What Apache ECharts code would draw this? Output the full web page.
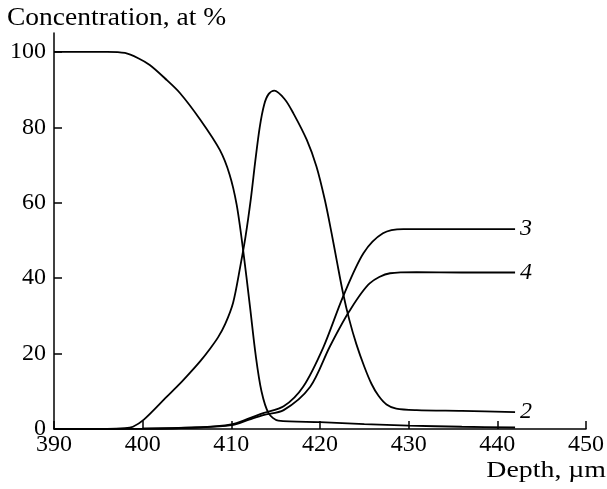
<!DOCTYPE html>
<html>
<head>
<meta charset="utf-8">
<script src="https://cdn.jsdelivr.net/npm/echarts@6/dist/echarts.min.js"></script>
<style>html,body{margin:0;padding:0;background:#fff}#c{width:607px;height:489px}</style>
</head>
<body>
<div id="c"></div>
<script>
// Depth (µm) and concentration (at %) readings
const curve1 = [[390,100],[396,100],[398,99.7],[399.5,98.3],[400.8,96.5],[402.5,93],[404.2,89.1],[406.5,82],[408.7,74],[409.8,67.5],[410.6,59.5],[411.3,48],[412.1,32.5],[412.75,19.5],[413.4,10],[414.2,4.2],[415.3,2.2],[420,1.8],[425,1.3],[430,0.9],[436,0.6],[442,0.4]];
const curve2 = [[390,0],[396,0],[398,0.2],[398.9,0.6],[400.1,2.4],[402.7,8.5],[404.2,12],[405.3,14.8],[406.5,18],[407.6,21.3],[408.5,24.3],[409.3,27.8],[410.2,33.5],[411,43],[411.6,51],[412.2,61],[412.7,71],[413.2,80],[413.7,86],[414.2,88.8],[414.84,89.7],[416,87.5],[417,83.7],[418.5,76.7],[419.6,69.6],[420.55,60.7],[421.3,52],[421.9,44.5],[422.6,36],[423.3,29],[424.1,22.5],[425,16.5],[425.8,12],[426.6,8.8],[427.5,6.5],[428.6,5.4],[430.9,5],[436,4.8],[442,4.5]];
const curve3 = [[390,0],[400,0.1],[406,0.4],[410,1.2],[412,2.8],[413.6,4.2],[415.9,6],[418.1,11.2],[420.4,21.8],[422.6,35.1],[424.9,46.6],[427.1,51.9],[429.4,53],[435,53],[442,53]];
const curve4 = [[390,0],[400,0.1],[406,0.4],[410,1.0],[412,2.5],[413.6,3.7],[415.9,5],[418.9,11.2],[421.1,21.8],[423.3,31.2],[425.6,38.6],[427.9,41.3],[430.9,41.6],[436,41.5],[442,41.5]];
const seriesNames = ['1','2','3','4'];
const label1Pos = [405.3, 91.5];
const xTicks = [390,400,410,420,430,440,450];
const yTicks = [0,20,40,60,80,100];
const yTitle = 'Concentration, at %';
const xTitle = 'Depth, µm';

const FONT = 'Liberation Serif';
const chart = echarts.init(document.getElementById('c'), null, {renderer:'canvas'});
const lineStyle = {color:'#000', width:1.8};
function mk(name, data, endLbl){
  const s = {
    name, type:'line', data, smooth:0.3, symbol:'none',
    lineStyle, itemStyle:{color:'#000'}, z:3
  };
  if (endLbl) {
    s.endLabel = {show:true, formatter:name, fontFamily:FONT, fontStyle:'italic', fontSize:24, color:'#000', distance:5};
  }
  return s;
}
const s1 = mk(seriesNames[0], curve1, false);
s1.markPoint = {symbol:'none', silent:true, data:[{coord:label1Pos, value:seriesNames[0]}],
  label:{show:true, position:'inside', formatter:seriesNames[0], fontFamily:FONT, fontStyle:'italic', fontSize:24, color:'#000'}};

chart.setOption({
  animation:false,
  backgroundColor:'#fff',
  graphic:[
    {type:'text', left:7, top:6, scaleX:1.1, style:{text:yTitle, font:'25px "Liberation Serif"', fill:'#000'}},
    {type:'text', right:1, top:459, scaleX:1.16, style:{text:xTitle, font:'24px "Liberation Serif"', fill:'#000'}}
  ],
  grid:{left:54, right:21, top:33, bottom:60, containLabel:false},
  xAxis:{type:'value', min:390, max:450, interval:10,
    axisLine:{lineStyle:{color:'#000', width:1.5}},
    axisTick:{inside:true, length:8, lineStyle:{color:'#000', width:1.5}, customValues:xTicks},
    axisLabel:{fontFamily:FONT, fontSize:24, color:'#000', margin:4, customValues:xTicks},
    splitLine:{show:false}},
  yAxis:{type:'value', min:0, max:105,
    axisLine:{show:true, lineStyle:{color:'#000', width:1.5}},
    axisTick:{show:true, inside:true, length:8, lineStyle:{color:'#000', width:1.5}, customValues:yTicks},
    axisLabel:{fontFamily:FONT, fontSize:24, color:'#000', margin:8, customValues:yTicks},
    splitLine:{show:false}},
  series:[s1, mk(seriesNames[1], curve2, true), mk(seriesNames[2], curve3, true), mk(seriesNames[3], curve4, true)]
});
</script>
</body>
</html>
